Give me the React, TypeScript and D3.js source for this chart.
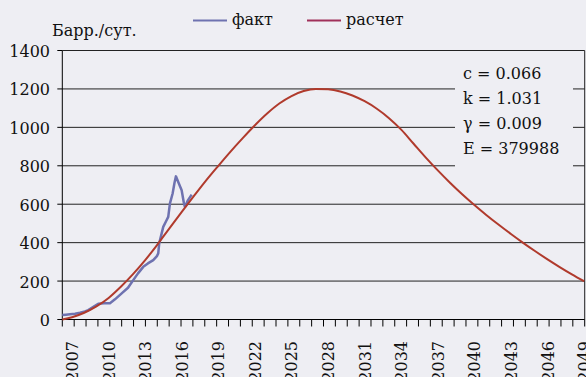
import React, { useEffect, useRef } from 'react';
import * as d3 from 'd3';

// calculated curve, one point per year (first point = start of the axis)
const calcYears = [
  2006.2, 2007, 2008, 2009, 2010, 2011, 2012, 2013, 2014, 2015, 2016, 2017, 2018, 2019,
  2020, 2021, 2022, 2023, 2024, 2025, 2026, 2027, 2028, 2029, 2030, 2031, 2032, 2033,
  2034, 2035, 2036, 2037, 2038, 2039, 2040, 2041, 2042, 2043, 2044, 2045, 2046, 2047,
  2048, 2049,
];
const calcValues = [
  0, 12, 35, 68, 112, 170, 236, 309, 390, 476, 560, 643, 724, 800,
  874, 944, 1011, 1072, 1124, 1163, 1189, 1200, 1198, 1187, 1166, 1136, 1097, 1048,
  988, 916, 844, 776, 712, 652, 596, 543, 493, 445, 399, 355, 313, 273,
  235, 199,
];

// actual production
const factYears = [
  2006.2, 2006.5, 2006.83, 2007.24, 2007.65, 2008.06, 2008.33, 2008.72, 2009.15, 2009.62,
  2010.11, 2010.52, 2011.07, 2011.59, 2012.02, 2012.41, 2012.84, 2013.22, 2013.66, 2013.96,
  2014.07, 2014.15, 2014.35, 2014.48, 2014.7, 2014.89, 2015.03, 2015.25, 2015.4, 2015.52,
  2015.71, 2015.99, 2016.18, 2016.26, 2016.5, 2016.81,
];
const factValues = [
  23, 25, 27, 30, 35, 42, 49, 65, 82, 84,
  85, 105, 136, 165, 205, 240, 274, 292, 309, 330,
  344, 396, 448, 482, 510, 534, 604, 656, 710, 745,
  716, 673, 604, 586, 620, 650,
];

const yTicks = [0, 200, 400, 600, 800, 1000, 1200, 1400];
const xLabels = [2007, 2010, 2013, 2016, 2019, 2022, 2025, 2028, 2031, 2034, 2037, 2040, 2043, 2046, 2049];
const params = ['c = 0.066', 'k = 1.031', 'γ = 0.009', 'E = 379988'];
const legendItems = ['факт', 'расчет'];

const W = 586;
const H = 377;
const BG = '#EEEEF3';
const FONT = '"DejaVu Serif", serif';

const App: React.FC = () => {
  const svgRef = useRef<SVGSVGElement | null>(null);

  useEffect(() => {
    if (!svgRef.current) return;
    const svg = d3.select(svgRef.current);
    svg.selectAll('*').remove();

    const left = 62.3;
    const right = 584.7;
    const top = 50.5;
    const bottom = 319.5;

    const x = d3.scaleLinear().domain([2006.2, 2049.05]).range([left, right]);
    const y = d3.scaleLinear().domain([0, 1400]).range([bottom, top]);
    // 44 minor tick intervals along the bottom axis
    const tickIdx = d3.scaleLinear().domain([0, 44]).range([left, right]);

    svg.append('rect').attr('width', W).attr('height', H).attr('fill', BG);

    // grid lines
    svg.append('g')
      .selectAll('line')
      .data(yTicks.slice(1))
      .enter()
      .append('line')
      .attr('x1', left)
      .attr('x2', right)
      .attr('y1', d => y(d))
      .attr('y2', d => y(d))
      .attr('stroke', '#222')
      .attr('stroke-width', 1);

    // right frame
    svg.append('line')
      .attr('x1', right).attr('x2', right)
      .attr('y1', top).attr('y2', bottom)
      .attr('stroke', '#222');

    // parameters box
    svg.append('rect')
      .attr('x', 455).attr('y', 57)
      .attr('width', 118).attr('height', 114)
      .attr('fill', BG);
    svg.append('g')
      .selectAll('text')
      .data(params)
      .enter()
      .append('text')
      .attr('x', 463)
      .attr('y', (_d, i) => 78.5 + i * 25.3)
      .style('font-family', FONT)
      .style('font-size', '16px')
      .attr('fill', '#111')
      .text(d => d);

    // left axis
    svg.append('line')
      .attr('x1', left).attr('x2', left)
      .attr('y1', top).attr('y2', bottom)
      .attr('stroke', '#000');
    svg.append('g')
      .selectAll('line')
      .data(yTicks)
      .enter()
      .append('line')
      .attr('x1', left - 5).attr('x2', left)
      .attr('y1', d => y(d)).attr('y2', d => y(d))
      .attr('stroke', '#000');
    svg.append('g')
      .selectAll('text')
      .data(yTicks)
      .enter()
      .append('text')
      .attr('x', 50)
      .attr('y', d => y(d) + 6.5)
      .attr('text-anchor', 'end')
      .style('font-family', FONT)
      .style('font-size', '16px')
      .attr('fill', '#111')
      .text(d => d);

    // bottom axis
    svg.append('line')
      .attr('x1', left).attr('x2', right)
      .attr('y1', bottom).attr('y2', bottom)
      .attr('stroke', '#000');
    svg.append('g')
      .selectAll('line')
      .data(d3.range(45))
      .enter()
      .append('line')
      .attr('x1', d => tickIdx(d)).attr('x2', d => tickIdx(d))
      .attr('y1', bottom).attr('y2', bottom + 7)
      .attr('stroke', '#000');
    svg.append('g')
      .selectAll('text')
      .data(xLabels)
      .enter()
      .append('text')
      .attr('transform', d => `translate(${x(d) + 6},341) rotate(-90)`)
      .attr('text-anchor', 'end')
      .style('font-family', FONT)
      .style('font-size', '16px')
      .attr('fill', '#111')
      .text(d => d);

    // series
    const calcLine = d3.line<number>()
      .x((_d, i) => x(calcYears[i]))
      .y(d => y(d))
      .curve(d3.curveMonotoneX);
    const factLine = d3.line<number>()
      .x((_d, i) => x(factYears[i]))
      .y(d => y(d));

    svg.append('path')
      .attr('d', factLine(factValues) || '')
      .attr('fill', 'none')
      .attr('stroke', '#6E72B0')
      .attr('stroke-width', 2.5)
      .attr('stroke-linejoin', 'round');
    svg.append('path')
      .attr('d', calcLine(calcValues) || '')
      .attr('fill', 'none')
      .attr('stroke', '#B03A2C')
      .attr('stroke-width', 2);

    // axis title
    svg.append('text')
      .attr('x', 52).attr('y', 36)
      .style('font-family', FONT)
      .style('font-size', '16px')
      .attr('fill', '#111')
      .text('Барр./сут.');

    // legend
    const legendX = [193, 307];
    const legendColors = ['#6E72B0', '#A0305A'];
    const lg = svg.append('g');
    legendItems.forEach((name, i) => {
      lg.append('line')
        .attr('x1', legendX[i]).attr('x2', legendX[i] + 34)
        .attr('y1', 20.5).attr('y2', 20.5)
        .attr('stroke', legendColors[i])
        .attr('stroke-width', 2);
      lg.append('text')
        .attr('x', legendX[i] + 39).attr('y', 25)
        .style('font-family', FONT)
        .style('font-size', '16px')
        .attr('fill', '#111')
        .text(name);
    });
  }, []);

  return (
    <div style={{ position: 'fixed', left: 0, top: 0, width: W, height: H, background: BG }}>
      <svg ref={svgRef} width={W} height={H} style={{ display: 'block' }} />
    </div>
  );
};

export default App;
